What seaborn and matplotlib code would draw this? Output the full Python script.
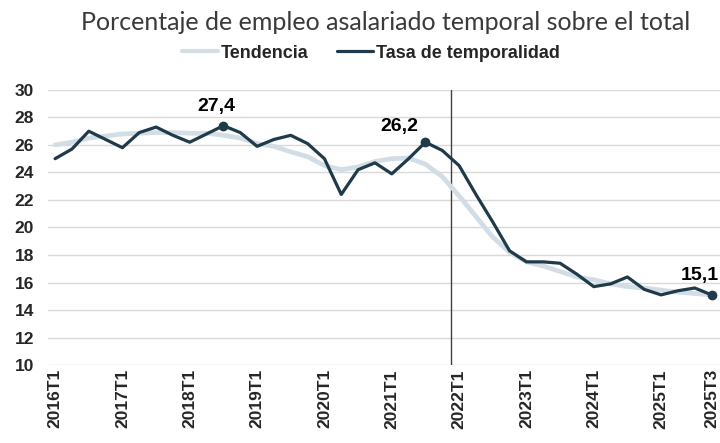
import pandas as pd
import matplotlib
matplotlib.use('agg')
import matplotlib.pyplot as plt
import seaborn as sns

# Tasa de temporalidad trimestral (%)
tasa = [25.0, 25.7, 27.0, 26.4, 25.8, 26.9, 27.3, 26.7, 26.2, 26.8,
        27.4, 26.9, 25.9, 26.4, 26.7, 26.1, 25.0, 22.4, 24.2, 24.7,
        23.9, 25.0, 26.2, 25.6, 24.5, 22.4, 20.4, 18.3, 17.5, 17.5,
        17.4, 16.6, 15.7, 15.9, 16.4, 15.5, 15.1, 15.4, 15.6, 15.1]
tendencia = [26.0, 26.2, 26.5, 26.65, 26.8, 26.85, 26.9, 26.9, 26.85, 26.85,
             26.7, 26.5, 26.1, 25.9, 25.5, 25.15, 24.5, 24.2, 24.4, 24.8,
             25.0, 25.05, 24.6, 23.7, 22.3, 20.8, 19.3, 18.2, 17.5, 17.2,
             16.8, 16.4, 16.2, 15.9, 15.7, 15.6, 15.45, 15.3, 15.2, 15.1]
tick_pos = [0, 4, 8, 12, 16, 20, 24, 28, 32, 36, 39]
tick_labels = ['2016T1', '2017T1', '2018T1', '2019T1', '2020T1', '2021T1',
               '2022T1', '2023T1', '2024T1', '2025T1', '2025T3']
destacados = [10, 22, 39]   # puntos con etiqueta
reforma = 23.5               # linea vertical

DARK = '#1f3a4a'
LIGHT = '#d3dde6'
BOLD_FONT = ['Liberation Sans', 'DejaVu Sans']


def main():
    sns.set_style('white')
    plt.rcParams['font.family'] = BOLD_FONT

    n = len(tasa)
    df = pd.DataFrame({
        'x': list(range(n)) * 2,
        'valor': tendencia + tasa,
        'serie': ['Tendencia'] * n + ['Tasa de temporalidad'] * n,
    })

    fig = plt.figure(figsize=(7.2, 4.43), dpi=100)
    ax = fig.add_axes([0.0667, 0.176, 0.9333, 0.621])

    sns.lineplot(data=df, x='x', y='valor', hue='serie',
                 palette={'Tendencia': LIGHT, 'Tasa de temporalidad': DARK},
                 ax=ax, legend=False)
    ax.lines[0].set_linewidth(3.4)
    ax.lines[1].set_linewidth(2.3)

    for i in destacados:
        ax.plot(i, tasa[i], 'o', color=DARK, markersize=6, zorder=5)
    offsets = {10: (-5, 14), 22: (-18.5, 11), 39: (-8.5, 14)}
    for i in destacados:
        dx, dy = offsets[i]
        ax.annotate(('%.1f' % tasa[i]).replace('.', ','), (i, tasa[i]),
                    xytext=(dx, dy), textcoords='offset points',
                    ha='center', va='center', fontsize=14, fontweight='bold',
                    color='black')

    ax.axvline(reforma, color='#404040', linewidth=1.0, zorder=1)

    ax.set_ylim(10, 30)
    ax.set_yticks(range(10, 31, 2))
    ax.set_xlim(-0.42, 39.5)
    ax.set_xticks(tick_pos)
    ax.set_xticklabels(tick_labels, rotation=90, fontsize=12.5, fontweight='bold')
    for lab in ax.get_yticklabels():
        lab.set_fontweight('bold')
        lab.set_fontsize(12.5)
    ax.grid(axis='y', color='#d9d9d9', linewidth=1.0)
    ax.set_axisbelow(True)
    ax.tick_params(axis='both', length=0, pad=3)
    ax.tick_params(axis='y', pad=10)
    for s in ax.spines.values():
        s.set_visible(False)
    ax.set_xlabel('')
    ax.set_ylabel('')

    fig.text(0.535, 0.95, 'Porcentaje de empleo asalariado temporal sobre el total',
             ha='center', va='center', fontsize=18, color='#3a3a3a',
             family=['Lato', 'DejaVu Sans'])

    handles = [plt.Line2D([], [], color=LIGHT, linewidth=3),
               plt.Line2D([], [], color=DARK, linewidth=2.3)]
    fig.legend(handles, ['Tendencia', 'Tasa de temporalidad'],
               loc='center', bbox_to_anchor=(0.515, 0.88), ncol=2, frameon=False,
               prop={'weight': 'bold', 'size': 13}, handlelength=2.0,
               handletextpad=0.15, columnspacing=1.6)

    plt.savefig('out.png', dpi=100)
    plt.close('all')


if __name__ == '__main__':
    main()
